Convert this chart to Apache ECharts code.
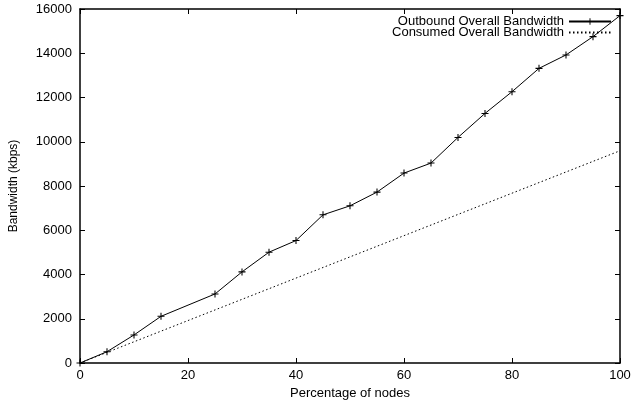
<!DOCTYPE html>
<html>
<head>
<meta charset="utf-8">
<script src="https://cdn.jsdelivr.net/npm/echarts@6/dist/echarts.min.js"></script>
<style>html,body{margin:0;padding:0;background:#fff}#c{width:631px;height:401px}</style>
</head>
<body>
<div id="c"></div>
<script>
const outboundX = [0, 5, 10, 15, 25, 30, 35, 40, 45, 50, 55, 60, 65, 70, 75, 80, 85, 90, 95, 100];
const outboundY = [0, 510, 1267, 2110, 3120, 4118, 5009, 5534, 6697, 7104, 7724, 8584, 9036, 10195, 11281, 12262, 13317, 13923, 14751, 15701];
const consumedX = [0, 100];
const consumedY = [0, 9593];
const xTicks = [0, 20, 40, 60, 80, 100];
const yTicks = [0, 2000, 4000, 6000, 8000, 10000, 12000, 14000, 16000];

const FONT = 'Liberation Sans';
const plus = 'path://M4.25,0h1.5v4.25h4.25v1.5h-4.25v4.25h-1.5v-4.25h-4.25v-1.5h4.25z';

const axisCommon = {
  axisLine: {show: true, onZero: false, lineStyle: {color: '#000', width: 1.5}},
  axisTick: {show: true, inside: true, length: 5, lineStyle: {color: '#000', width: 1}},
  splitLine: {show: false}
};

const chart = echarts.init(document.getElementById('c'), null, {renderer: 'canvas'});
chart.setOption({
  animation: false,
  backgroundColor: '#fff',
  textStyle: {fontFamily: FONT},
  grid: {left: 80, right: 11, top: 9, bottom: 38, containLabel: false, outerBoundsMode: 'none'},
  legend: {
    orient: 'vertical',
    right: 19,
    top: 15,
    padding: 0,
    align: 'right',
    itemWidth: 42,
    itemHeight: 8,
    itemGap: -2,
    textStyle: {fontFamily: FONT, fontSize: 13, color: '#000', lineHeight: 11},
    data: ['Outbound Overall Bandwidth', 'Consumed Overall Bandwidth']
  },
  xAxis: [
    Object.assign({}, axisCommon, {
      type: 'value', min: xTicks[0], max: xTicks[xTicks.length - 1], interval: 20,
      position: 'bottom',
      name: 'Percentage of nodes', nameLocation: 'middle', nameGap: 24,
      nameTextStyle: {fontFamily: FONT, fontSize: 13, color: '#000'},
      axisLabel: {fontFamily: FONT, fontSize: 13, color: '#000', margin: 6, formatter: v => String(v)}
    }),
    Object.assign({}, axisCommon, {
      type: 'value', min: xTicks[0], max: xTicks[xTicks.length - 1], interval: 20,
      position: 'top', axisLabel: {show: false}
    })
  ],
  yAxis: [
    Object.assign({}, axisCommon, {
      type: 'value', min: yTicks[0], max: yTicks[yTicks.length - 1], interval: 2000,
      position: 'left',
      name: 'Bandwidth (kbps)', nameLocation: 'middle', nameGap: 60, nameRotate: 90,
      nameTextStyle: {fontFamily: FONT, fontSize: 12, color: '#000'},
      axisLabel: {fontFamily: FONT, fontSize: 13, color: '#000', margin: 8, formatter: v => String(v)}
    }),
    Object.assign({}, axisCommon, {
      type: 'value', min: yTicks[0], max: yTicks[yTicks.length - 1], interval: 2000,
      position: 'right', axisLabel: {show: false}
    })
  ],
  series: [
    {
      name: 'Outbound Overall Bandwidth',
      type: 'line',
      xAxisIndex: 0, yAxisIndex: 0,
      data: outboundX.map((x, i) => [x, outboundY[i]]),
      symbol: plus,
      symbolSize: 7,
      showSymbol: true,
      lineStyle: {color: '#000', width: 1},
      itemStyle: {color: '#000'}
    },
    {
      name: 'Consumed Overall Bandwidth',
      type: 'line',
      xAxisIndex: 0, yAxisIndex: 0,
      data: consumedX.map((x, i) => [x, consumedY[i]]),
      symbol: 'none',
      lineStyle: {color: '#000', width: 1, type: [1.5, 2.5]},
      itemStyle: {color: 'rgba(0,0,0,0)'}
    }
  ]
});
</script>
</body>
</html>
